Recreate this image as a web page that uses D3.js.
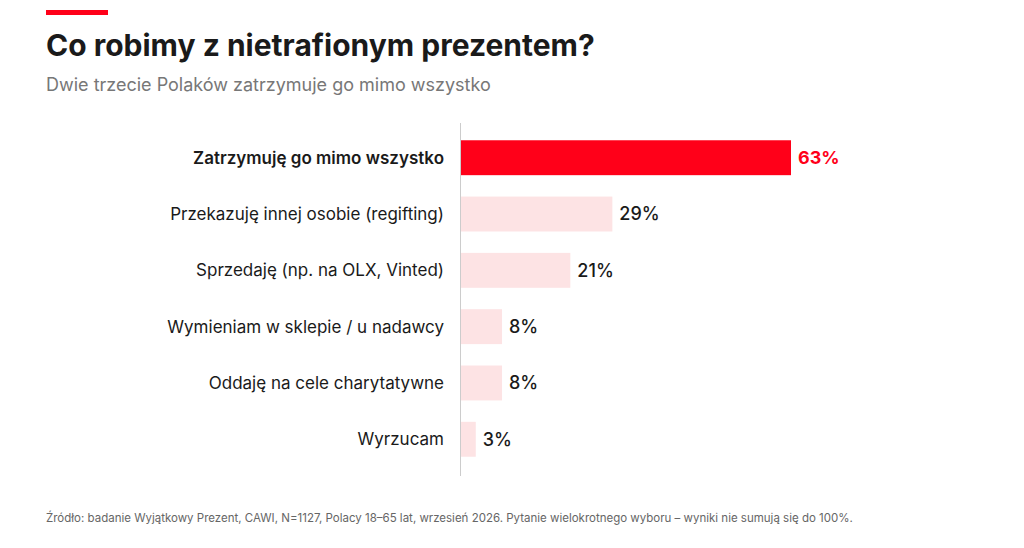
<!DOCTYPE html>
<html>
<head>
<meta charset="utf-8">
<script src="https://cdn.jsdelivr.net/npm/d3@7"></script>
<style>
  body { margin: 0; background: #fff; }
  svg { font-family: Inter, "Open Sans", sans-serif; }
</style>
</head>
<body>
<svg id="chart" width="1024" height="548"></svg>
<script>
// data
var categories = [
    "Zatrzymuję go mimo wszystko",
    "Przekazuję innej osobie (regifting)",
    "Sprzedaję (np. na OLX, Vinted)",
    "Wymieniam w sklepie / u nadawcy",
    "Oddaję na cele charytatywne",
    "Wyrzucam"
];
var values = [63, 29, 21, 8, 8, 3];

var svg = d3.select("#chart");
var red = "#ff0019", pale = "#fde3e4", dark = "#1a1a1a";

// header
svg.append("rect").attr("x", 46).attr("y", 10).attr("width", 62).attr("height", 5).attr("fill", red);
svg.append("text").attr("x", 46).attr("y", 56)
    .attr("font-size", 30).attr("font-weight", 700).attr("fill", dark)
    .text("Co robimy z nietrafionym prezentem?");
svg.append("text").attr("x", 46).attr("y", 91)
    .attr("font-size", 18).attr("fill", "#777")
    .text("Dwie trzecie Polaków zatrzymuje go mimo wszystko");

var x = d3.scaleLinear().domain([0, 63]).range([460, 791]);
var y = d3.scaleBand().domain(categories).range([129, 468]).paddingInner(0.38).paddingOuter(0.2);

// axis line
svg.append("line").attr("x1", 460.5).attr("x2", 460.5).attr("y1", 123).attr("y2", 476)
    .attr("stroke", "#ccc");

var rows = svg.selectAll("g.row").data(categories).enter().append("g").attr("class", "row");

rows.append("rect")
    .attr("x", x(0) + 1)
    .attr("y", function (d) { return y(d); })
    .attr("width", function (d, i) { return x(values[i]) - x(0) - 1; })
    .attr("height", y.bandwidth())
    .attr("fill", function (d, i) { return i === 0 ? red : pale; });

rows.append("text")
    .attr("x", 444)
    .attr("y", function (d) { return y(d) + y.bandwidth() / 2; })
    .attr("dy", "0.35em").attr("text-anchor", "end")
    .attr("font-size", 17)
    .attr("font-weight", function (d, i) { return i === 0 ? 600 : 400; })
    .attr("fill", dark)
    .text(function (d) { return d; });

rows.append("text")
    .attr("x", function (d, i) { return x(values[i]) + 7; })
    .attr("y", function (d) { return y(d) + y.bandwidth() / 2; })
    .attr("dy", "0.35em")
    .attr("font-size", 18)
    .attr("font-weight", function (d, i) { return i === 0 ? 700 : 500; })
    .attr("fill", function (d, i) { return i === 0 ? red : dark; })
    .text(function (d, i) { return values[i] + "%"; });

// footer
svg.append("text").attr("x", 46).attr("y", 522)
    .attr("font-size", 11.5).attr("fill", "#666")
    .text("Źródło: badanie Wyjątkowy Prezent, CAWI, N=1127, Polacy 18–65 lat, wrzesień 2026. Pytanie wielokrotnego wyboru – wyniki nie sumują się do 100%.");
</script>
</body>
</html>
